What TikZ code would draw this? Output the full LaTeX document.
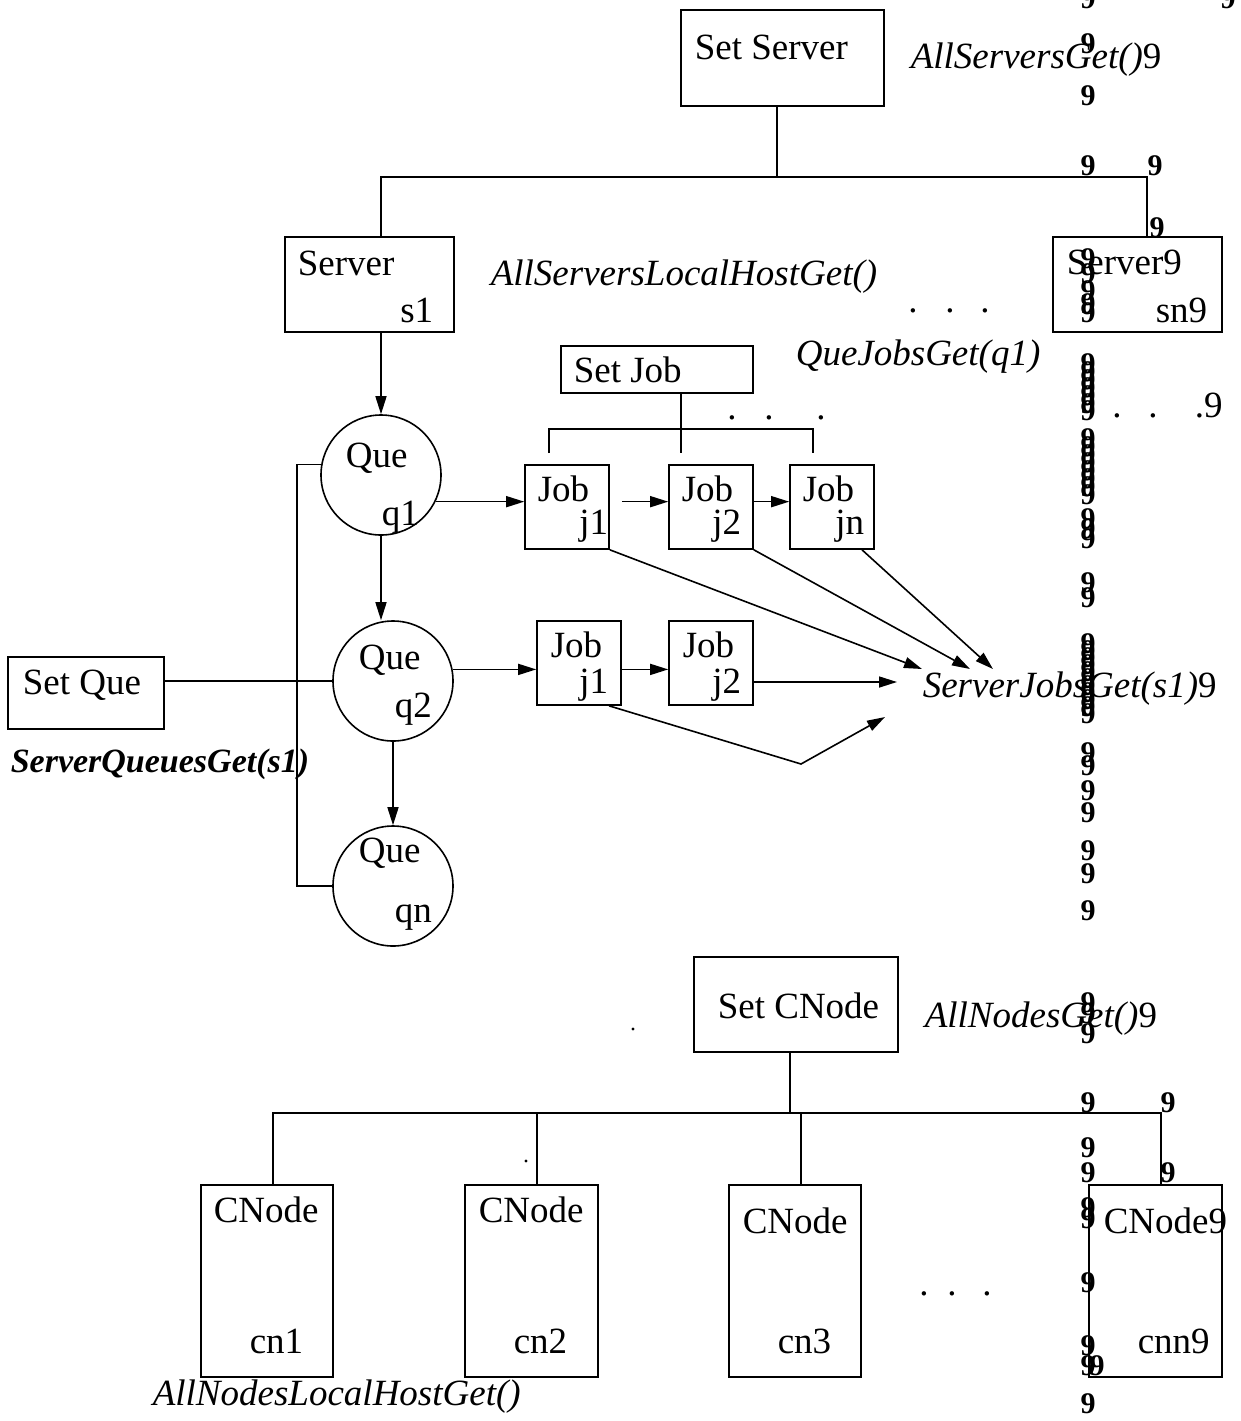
\documentclass[tikz,border=0pt]{standalone}
\usepackage{fontspec}
\setmainfont{Liberation Serif}
\usetikzlibrary{arrows.meta,fit}
\tikzset{
  box/.style={draw,rectangle,inner sep=0pt},
  que/.style={draw,circle,minimum size=60pt,inner sep=0pt},
  txt/.style={anchor=base west,inner sep=0pt},
  txtr/.style={anchor=base east,inner sep=0pt},
  dot/.style={anchor=base,inner sep=0pt},
  nine/.style={anchor=base,inner sep=0pt,font=\fontsize{15}{15}\selectfont\bfseries},
  arr/.style={-{Triangle[length=9pt,width=5.5pt]}},
}

\begin{document}
\begin{tikzpicture}[x=0.5pt,y=-0.5pt,line width=0.8pt,font=\fontsize{18.5}{22}\selectfont]
	\useasboundingbox (0,0) rectangle (1241,1421);
	% servers
	\node (setserver) [box,fit={(681,10) (884,106)}] {};
	\node (s1) [box,fit={(285,237) (454,332)}] {};
	\node (sn) [box,fit={(1053,237) (1222,332)}] {};
	\node (tsetserver) [txt] at (694,59) {Set Server};
	\node (tallservers) [txt] at (910,68) {\textit{AllServersGet()}9};
	\node (ts1a) [txt] at (297,275) {Server};
	\node (ts1b) [txtr] at (434,322) {s1};
	\node (tlocalhost) [txt] at (490,285) {\textit{AllServersLocalHostGet()}};
	\node (tsna) [txt] at (1066,274) {Server9};
	\node (tsnb) [txtr] at (1208,322) {sn9};
	\node (dsn1) [dot] at (913,312) {.};
	\node (dsn2) [dot] at (950,312) {.};
	\node (dsn3) [dot] at (985,312) {.};
	\coordinate (sbus) at (777,177);
	\draw (setserver.south -| sbus) -- (sbus);
	\draw (s1.north -| 381,0) |- (sbus) -| (sn.north -| 1147,0);
	% queues
	\node (q1) [que] at (381,475) {};
	\node (q2) [que] at (393,681) {};
	\node (qn) [que] at (393,886) {};
	\node (tq1a) [txt] at (345,467) {Que};
	\node (tq1b) [txt] at (381,525) {q1};
	\node (tq2a) [txt] at (358,669) {Que};
	\node (tq2b) [txt] at (394,717) {q2};
	\node (tqna) [txt] at (358,862) {Que};
	\node (tqnb) [txt] at (394,922) {qn};
	\draw [arr] (s1.south -| q1) -- (q1);
	\draw [arr] (q1.south) -- (q2.north -| q1);
	\draw [arr] (q2) -- (qn);
	\node (setque) [box,fit={(8,657) (164,729)}] {};
	\node (tsetque) [txt] at (22,694) {Set Que};
	\node (tqueues) [txt,font=\fontsize{17}{20}\selectfont\bfseries\itshape] at (10,772) {ServerQueuesGet(s1)};
	\draw (q1.170) -- (q1.170 -| 297,0) |- (qn.west);
	\draw (setque.east |- q2) -- (q2.west);
	% jobs
	\node (setjob) [box,fit={(561,346) (753,393)}] {};
	\node (tsetjob) [txt] at (573,382) {Set Job};
	\node (tquejobs) [txt] at (795,365) {\textit{QueJobsGet(q1)}};
	\node (dj1) [dot] at (732,419) {.};
	\node (dj2) [dot] at (769,419) {.};
	\node (dj3) [dot] at (821,419) {.};
	\coordinate (jbus) at (681,429);
	\coordinate (jst1) at (549,453);
	\coordinate (jst2) at (681,453);
	\coordinate (jst3) at (813,453);
	\draw (setjob.south -| jbus) -- (jst2);
	\draw (jst1) |- (jbus) -| (jst3);
	\node (j1) [box,fit={(525,465) (609,549)}] {};
	\node (j2) [box,fit={(669,465) (753,549)}] {};
	\node (jn) [box,fit={(790,465) (874,549)}] {};
	\node (tj1a) [txt] at (537,501) {Job};
	\node (tj1b) [txtr] at (609,534) {j1};
	\node (tj2a) [txt] at (681,501) {Job};
	\node (tj2b) [txtr] at (742,534) {j2};
	\node (tjna) [txt] at (802,501) {Job};
	\node (tjnb) [txtr] at (865,534) {jn};
	\draw [arr] (q1.-26) -- (j1.west |- q1.-26);
	\draw [arr,shorten <=6pt] (j1.east |- q1.-26) -- (j2.west |- q1.-26);
	\draw [arr] (j2.east |- q1.-26) -- (jn.west |- q1.-26);
	\node (k1) [box,fit={(537,621) (621,705)}] {};
	\node (k2) [box,fit={(669,621) (753,705)}] {};
	\node (tk1a) [txt] at (550,657) {Job};
	\node (tk1b) [txtr] at (609,693) {j1};
	\node (tk2a) [txt] at (682,657) {Job};
	\node (tk2b) [txtr] at (742,693) {j2};
	\draw [arr] (q2.11) -- (k1.west |- q2.11);
	\draw [arr] (k1.east |- q2.11) -- (k2.west |- q2.11);
	\node (tserverjobs) [txt] at (922,697) {\textit{ServerJobsGet(s1)}9};
	\coordinate (sj1) at (922,669);
	\coordinate (sj2) at (970,669);
	\coordinate (sj3) at (993,669);
	\coordinate (sj4) at (897,682);
	\coordinate (sj5) at (885,717);
	\draw [arr] (j1.south east) -- (sj1);
	\draw [arr] (j2.south east) -- (sj2);
	\draw [arr] (jn.south -| 862,0) -- (sj3);
	\draw [arr] (k2.east |- sj4) -- (sj4);
	\draw [arr] (k1.south -| 609,0) -- (801,764) -- (sj5);
	% cnodes
	\node (setcnode) [box,fit={(694,957) (898,1052)}] {};
	\node (tsetcnode) [txt] at (717,1018) {Set CNode};
	\node (tallnodes) [txt] at (924,1027) {\textit{AllNodesGet()}9};
	\node (cn1) [box,fit={(201,1185) (333,1377)}] {};
	\node (cn2) [box,fit={(465,1185) (598,1377)}] {};
	\node (cn3) [box,fit={(729,1185) (861,1377)}] {};
	\node (cnn) [box,fit={(1089,1185) (1222,1377)}] {};
	\node (tcn1a) [txt] at (213,1222) {CNode};
	\node (tcn2a) [txt] at (478,1222) {CNode};
	\node (tcn3a) [txt] at (742,1233) {CNode};
	\node (tcnna) [txt] at (1103,1233) {CNode9};
	\node (tcn1b) [txt] at (249,1353) {cn1};
	\node (tcn2b) [txt] at (513,1353) {cn2};
	\node (tcn3b) [txt] at (777,1353) {cn3};
	\node (tcnnb) [txt] at (1137,1353) {cnn9};
	\node (dc1) [dot] at (924,1295) {.};
	\node (dc2) [dot] at (952,1295) {.};
	\node (dc3) [dot] at (987,1295) {.};
	\node (tlocalnodes) [txt] at (152,1405) {\textit{AllNodesLocalHostGet()}};
	\coordinate (cbus) at (790,1113);
	\draw (setcnode.south -| cbus) -- (cbus);
	\draw (cn1.north -| 273,0) |- (cbus) -| (cnn.north -| 1161,0);
	\draw (cn2.north -| 537,0) -- (537,1113);
	\draw (cn3.north -| 801,0) -- (801,1113);
	\fill (633,1029) circle (0.8pt);
	\fill (526,1161) circle (0.8pt);
	% stray nines
	\foreach \y in {8,53,105,175,268,283,300,313,322,373,381,389,397,405,413,420,448,456,464,472,480,488,496,504,528,538,548,592,607,653,660,667,674,681,688,695,702,709,716,723,762,775,800,822,860,883,920,1012,1023,1043,1112,1157,1182,1217,1228,1292,1355,1375,1413}
		\node (nine\y) [nine] at (1088,\y) {9};
	\node (nineA) [nine] at (1228,8) {9};
	\node (nineB) [nine] at (1155,175) {9};
	\node (nineC) [nine] at (1157,237) {9};
	\node (nineD) [nine] at (1168,1112) {9};
	\node (nineE) [nine] at (1168,1182) {9};
	\node (nineF) [nine] at (1097,1375) {9};
	\node (dr1) [dot] at (1117,417) {.};
	\node (dr2) [dot] at (1153,417) {.};
	\node (dr3) [txt] at (1194,417) {.9};
\end{tikzpicture}
\end{document}
